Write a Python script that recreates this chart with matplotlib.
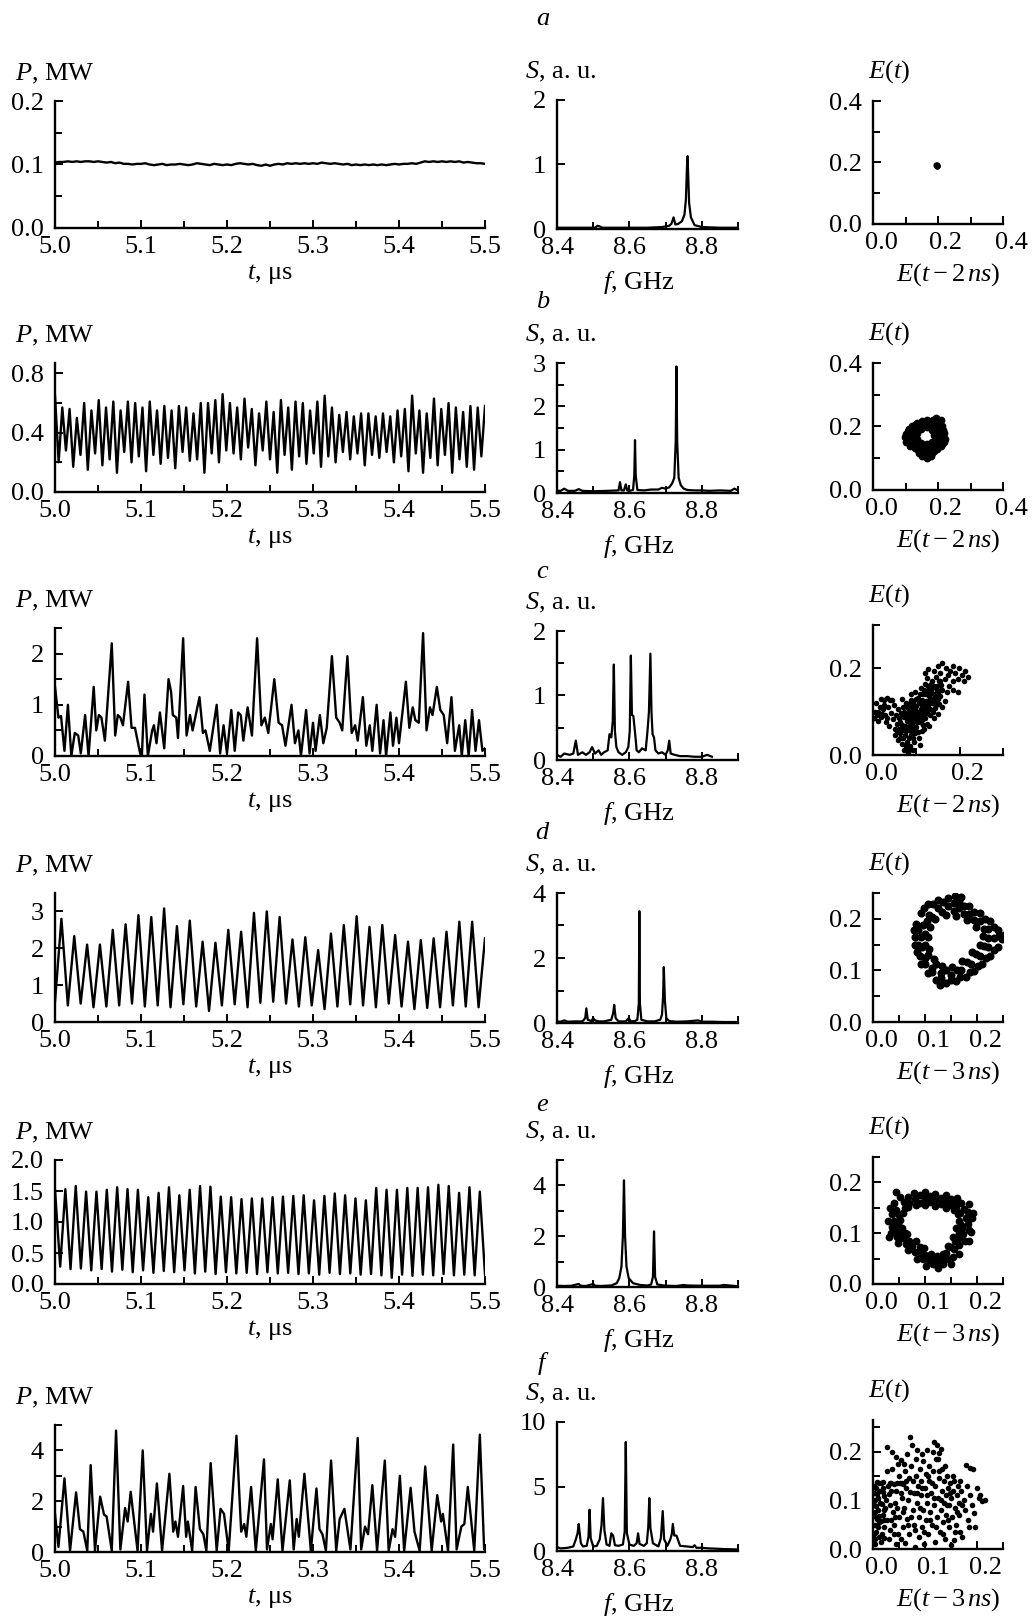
"""
Six regimes of a microwave oscillator: output power P(t), spectrum S(f)
and the delay-embedded phase portrait E(t) vs E(t - tau).
"""
import numpy as np
import matplotlib.pyplot as plt
from matplotlib import transforms

plt.rcParams['font.family'] = ['Liberation Serif', 'DejaVu Serif']
plt.rcParams['mathtext.fontset'] = 'custom'
plt.rcParams['mathtext.rm'] = 'Liberation Serif'
plt.rcParams['mathtext.it'] = 'Liberation Serif:italic'
plt.rcParams['mathtext.bf'] = 'Liberation Serif:bold'

# ---------------------------------------------------------------- data
# (a) steady output, sampled every 5 ns
a_P = [0.103, 0.104, 0.104, 0.105, 0.104, 0.105, 0.104, 0.105, 0.105, 0.104,
       0.105, 0.104, 0.103, 0.104, 0.102, 0.103, 0.101, 0.101, 0.100, 0.101,
       0.101, 0.102, 0.100, 0.099, 0.100, 0.101, 0.099, 0.100, 0.100, 0.101,
       0.100, 0.099, 0.100, 0.102, 0.101, 0.100, 0.099, 0.101, 0.100, 0.099,
       0.100, 0.099, 0.101, 0.102, 0.101, 0.100, 0.101, 0.099, 0.098, 0.100,
       0.098, 0.100, 0.101, 0.100, 0.102, 0.101, 0.102, 0.101, 0.102, 0.101,
       0.102, 0.101, 0.103, 0.102, 0.101, 0.102, 0.101, 0.100, 0.101, 0.099,
       0.100, 0.099, 0.100, 0.099, 0.100, 0.099, 0.100, 0.099, 0.100, 0.101,
       0.100, 0.101, 0.101, 0.102, 0.101, 0.103, 0.105, 0.104, 0.105, 0.104,
       0.105, 0.104, 0.105, 0.104, 0.105, 0.103, 0.104, 0.103, 0.102, 0.102,
       0.101]
a_f = [8.400, 8.420, 8.450, 8.480, 8.505, 8.512, 8.518, 8.525, 8.550, 8.600,
       8.650, 8.690, 8.710, 8.716, 8.722, 8.727, 8.735, 8.745, 8.752, 8.756,
       8.759, 8.7605, 8.762, 8.765, 8.770, 8.780, 8.800, 8.850, 8.900]
a_S = [0.02, 0.02, 0.02, 0.02, 0.02, 0.05, 0.04, 0.02, 0.02, 0.02,
       0.02, 0.03, 0.05, 0.08, 0.18, 0.07, 0.08, 0.12, 0.22, 0.45,
       0.95, 1.13, 0.90, 0.40, 0.18, 0.06, 0.03, 0.02, 0.02]
a_E = [(0.194, 0.192), (0.196, 0.190), (0.198, 0.191), (0.197, 0.188)]

# (b) two-frequency regime: successive maxima / minima of P
b_peaks = [0.65, 0.57, 0.56, 0.50, 0.60, 0.55, 0.62, 0.57, 0.61, 0.55,
           0.61, 0.60, 0.57, 0.61, 0.55, 0.58, 0.55, 0.58, 0.57, 0.53,
           0.60, 0.60, 0.62, 0.66, 0.60, 0.57, 0.63, 0.56, 0.53, 0.61,
           0.54, 0.62, 0.57, 0.61, 0.60, 0.55, 0.61, 0.65, 0.57, 0.52,
           0.54, 0.51, 0.53, 0.53, 0.51, 0.53, 0.51, 0.55, 0.56, 0.65,
           0.55, 0.53, 0.63, 0.56, 0.60, 0.57, 0.54, 0.58, 0.57, 0.58]
b_troughs = [0.20, 0.28, 0.17, 0.25, 0.15, 0.26, 0.18, 0.22, 0.13, 0.27,
             0.20, 0.24, 0.14, 0.25, 0.19, 0.23, 0.16, 0.27, 0.21, 0.22,
             0.13, 0.26, 0.20, 0.28, 0.26, 0.22, 0.30, 0.18, 0.28, 0.22,
             0.13, 0.25, 0.15, 0.24, 0.19, 0.26, 0.17, 0.24, 0.20, 0.27,
             0.22, 0.26, 0.18, 0.25, 0.23, 0.27, 0.20, 0.24, 0.14, 0.26,
             0.13, 0.23, 0.18, 0.25, 0.13, 0.22, 0.17, 0.15, 0.24]
b_f = [8.400, 8.410, 8.420, 8.430, 8.450, 8.460, 8.470, 8.500, 8.540, 8.570,
       8.574, 8.578, 8.585, 8.590, 8.594, 8.600, 8.610, 8.6135, 8.6155, 8.6175,
       8.622, 8.640, 8.660, 8.680, 8.690, 8.700, 8.710, 8.718, 8.724, 8.728,
       8.730, 8.732, 8.736, 8.742, 8.750, 8.760, 8.780, 8.800, 8.820, 8.850,
       8.880, 8.890, 8.900]
b_S = [0.05, 0.05, 0.10, 0.05, 0.05, 0.09, 0.05, 0.04, 0.05, 0.06,
       0.25, 0.06, 0.06, 0.20, 0.06, 0.05, 0.07, 0.40, 1.22, 0.40,
       0.07, 0.06, 0.08, 0.08, 0.12, 0.10, 0.13, 0.22, 0.35, 1.20,
       2.92, 1.20, 0.35, 0.18, 0.10, 0.07, 0.06, 0.06, 0.05, 0.06,
       0.05, 0.10, 0.06]
b_E = [(0.222, 0.160), (0.218, 0.180), (0.212, 0.200), (0.208, 0.222), (0.195, 0.228),
       (0.180, 0.215), (0.165, 0.222), (0.150, 0.218), (0.135, 0.210), (0.120, 0.200),
       (0.108, 0.185), (0.098, 0.168), (0.102, 0.150), (0.115, 0.140), (0.130, 0.132),
       (0.140, 0.118), (0.150, 0.108), (0.165, 0.100), (0.178, 0.108), (0.188, 0.122),
       (0.200, 0.135), (0.212, 0.145),
       (0.210, 0.170), (0.204, 0.190), (0.196, 0.210), (0.172, 0.212), (0.142, 0.208),
       (0.114, 0.175), (0.108, 0.158), (0.125, 0.140), (0.145, 0.120), (0.172, 0.115),
       (0.195, 0.140), (0.205, 0.152),
       (0.215, 0.190), (0.200, 0.218), (0.186, 0.222), (0.158, 0.215), (0.128, 0.205),
       (0.112, 0.193), (0.103, 0.176), (0.106, 0.160), (0.122, 0.150), (0.137, 0.125),
       (0.157, 0.113), (0.170, 0.104), (0.183, 0.118), (0.196, 0.128), (0.208, 0.140),
       (0.217, 0.152),
       (0.200, 0.168), (0.195, 0.192), (0.180, 0.205), (0.160, 0.208), (0.140, 0.198),
       (0.125, 0.183), (0.118, 0.165), (0.128, 0.148), (0.145, 0.135), (0.160, 0.125),
       (0.175, 0.130), (0.190, 0.145),
       (0.193, 0.158), (0.189, 0.182), (0.172, 0.200), (0.150, 0.200), (0.130, 0.190),
       (0.126, 0.170), (0.136, 0.150), (0.152, 0.140), (0.170, 0.138), (0.184, 0.140),
       (0.188, 0.172), (0.182, 0.190), (0.165, 0.198), (0.148, 0.192), (0.135, 0.178),
       (0.135, 0.160), (0.148, 0.148), (0.165, 0.145), (0.180, 0.152)]

# (c) three-frequency regime, extrema of P with their times
c_t = [5.000, 5.004, 5.007, 5.011, 5.015, 5.019, 5.023, 5.027, 5.030, 5.035,
       5.039, 5.045, 5.048, 5.051, 5.054, 5.058, 5.066, 5.070, 5.073, 5.076,
       5.079, 5.085, 5.089, 5.093, 5.099, 5.101, 5.104, 5.108, 5.113, 5.115,
       5.118, 5.122, 5.127, 5.132, 5.135, 5.137, 5.141, 5.143, 5.149, 5.153,
       5.157, 5.160, 5.168, 5.172, 5.175, 5.180, 5.188, 5.192, 5.196, 5.200,
       5.205, 5.209, 5.213, 5.216, 5.219, 5.224, 5.229, 5.235, 5.240, 5.244,
       5.248, 5.255, 5.260, 5.264, 5.268, 5.275, 5.279, 5.283, 5.286, 5.292,
       5.296, 5.300, 5.303, 5.308, 5.312, 5.316, 5.322, 5.327, 5.331, 5.334,
       5.340, 5.345, 5.349, 5.352, 5.358, 5.362, 5.366, 5.369, 5.374, 5.378,
       5.382, 5.385, 5.390, 5.393, 5.397, 5.400, 5.408, 5.412, 5.416, 5.419,
       5.423, 5.428, 5.432, 5.436, 5.439, 5.444, 5.448, 5.452, 5.456, 5.461,
       5.465, 5.470, 5.473, 5.477, 5.481, 5.485, 5.489, 5.493, 5.497, 5.500]
c_P = [1.35, 0.75, 0.78, 0.10, 1.00, 0.00, 0.45, 0.40, 0.05, 0.80,
       0.00, 1.35, 0.50, 0.80, 0.75, 0.30, 2.20, 0.40, 0.80, 0.75,
       0.60, 1.45, 0.55, 0.55, 0.05, 0.00, 1.20, 0.00, 0.50, 0.60,
       0.25, 0.85, 0.15, 1.50, 1.25, 0.80, 0.75, 0.35, 2.30, 0.40,
       0.80, 0.50, 1.15, 0.45, 0.50, 0.10, 1.00, 0.05, 0.60, 0.05,
       0.90, 0.10, 0.85, 0.80, 0.30, 0.95, 0.40, 2.30, 0.60, 0.75,
       0.45, 1.50, 0.65, 0.60, 0.20, 1.00, 0.25, 0.50, 0.00, 0.90,
       0.05, 0.65, 0.10, 0.80, 0.25, 0.55, 1.95, 0.75, 0.65, 0.50,
       1.95, 0.45, 0.60, 0.30, 1.15, 0.20, 0.60, 0.10, 1.00, 0.05,
       0.70, 0.00, 0.85, 0.20, 0.75, 0.25, 1.45, 0.55, 0.95, 0.70,
       0.65, 2.40, 0.50, 0.95, 0.80, 1.35, 0.90, 0.80, 0.25, 1.15,
       0.10, 0.60, 0.00, 0.70, 0.00, 0.90, 0.10, 0.70, 0.10, 0.15]
c_f = [8.400, 8.410, 8.420, 8.435, 8.445, 8.452, 8.458, 8.470, 8.480, 8.490,
       8.497, 8.505, 8.515, 8.522, 8.530, 8.540, 8.545, 8.550, 8.554, 8.557,
       8.560, 8.564, 8.570, 8.580, 8.590, 8.597, 8.601, 8.604, 8.607, 8.611,
       8.616, 8.620, 8.626, 8.635, 8.645, 8.650, 8.654, 8.658, 8.661, 8.664,
       8.668, 8.672, 8.680, 8.690, 8.700, 8.706, 8.710, 8.714, 8.725, 8.740,
       8.760, 8.780, 8.800, 8.815, 8.828]
c_S = [0.08, 0.05, 0.10, 0.08, 0.10, 0.30, 0.08, 0.12, 0.08, 0.12,
       0.20, 0.10, 0.15, 0.08, 0.12, 0.15, 0.40, 0.35, 0.60, 1.48,
       0.45, 0.20, 0.12, 0.08, 0.12, 0.20, 0.45, 1.62, 0.70, 0.68,
       0.40, 0.15, 0.12, 0.18, 0.15, 0.45, 0.75, 1.65, 0.75, 0.40,
       0.35, 0.15, 0.10, 0.12, 0.08, 0.15, 0.30, 0.10, 0.08, 0.06,
       0.06, 0.05, 0.05, 0.08, 0.05]
c_E = [(0.003, 0.085), (0.005, 0.100), (0.010, 0.092), (0.012, 0.078), (0.008, 0.120),
       (0.018, 0.130), (0.025, 0.128), (0.032, 0.131), (0.040, 0.127), (0.022, 0.105),
       (0.028, 0.092), (0.035, 0.110), (0.018, 0.088), (0.030, 0.075), (0.042, 0.098),
       (0.045, 0.082), (0.048, 0.115), (0.038, 0.068), (0.050, 0.060), (0.055, 0.072),
       (0.015, 0.110), (0.050, 0.045), (0.058, 0.035), (0.062, 0.050), (0.066, 0.025),
       (0.070, 0.040), (0.072, 0.012), (0.078, 0.030), (0.080, 0.005), (0.085, 0.020),
       (0.088, 0.045), (0.092, 0.012), (0.095, 0.030), (0.098, 0.050), (0.060, 0.060),
       (0.068, 0.070), (0.075, 0.055), (0.082, 0.065), (0.090, 0.058), (0.100, 0.065),
       (0.105, 0.040), (0.108, 0.022), (0.112, 0.055), (0.115, 0.070), (0.060, 0.085),
       (0.065, 0.098), (0.070, 0.110), (0.072, 0.088), (0.078, 0.078), (0.080, 0.100),
       (0.083, 0.118), (0.085, 0.090), (0.088, 0.080), (0.090, 0.105), (0.092, 0.125),
       (0.095, 0.095), (0.097, 0.078), (0.100, 0.112), (0.102, 0.088), (0.104, 0.132),
       (0.106, 0.100), (0.108, 0.076), (0.110, 0.118), (0.112, 0.092), (0.115, 0.140),
       (0.117, 0.108), (0.120, 0.085), (0.122, 0.125), (0.125, 0.100), (0.127, 0.150),
       (0.128, 0.115), (0.130, 0.135), (0.132, 0.092), (0.135, 0.120), (0.137, 0.155),
       (0.140, 0.140), (0.142, 0.108), (0.145, 0.128), (0.147, 0.160), (0.150, 0.145),
       (0.153, 0.118), (0.155, 0.135), (0.158, 0.162), (0.160, 0.150), (0.075, 0.120),
       (0.068, 0.130), (0.058, 0.105), (0.052, 0.092), (0.088, 0.140), (0.098, 0.145),
       (0.110, 0.155), (0.120, 0.165), (0.125, 0.178), (0.135, 0.170), (0.145, 0.180),
       (0.118, 0.060), (0.125, 0.072), (0.130, 0.068), (0.120, 0.190), (0.128, 0.198),
       (0.140, 0.195), (0.150, 0.205), (0.155, 0.190), (0.160, 0.212), (0.168, 0.200),
       (0.172, 0.185), (0.178, 0.195), (0.185, 0.205), (0.190, 0.190), (0.198, 0.200),
       (0.205, 0.185), (0.210, 0.170), (0.220, 0.180), (0.212, 0.195), (0.195, 0.175),
       (0.185, 0.170), (0.175, 0.160), (0.185, 0.150), (0.195, 0.145), (0.165, 0.175),
       (0.155, 0.170), (0.170, 0.145), (0.165, 0.125), (0.160, 0.110), (0.150, 0.095),
       (0.140, 0.085), (0.043, 0.127), (0.085, 0.108), (0.095, 0.115), (0.105, 0.085),
       (0.062, 0.075), (0.066, 0.090), (0.071, 0.100), (0.074, 0.068), (0.077, 0.092),
       (0.079, 0.110), (0.081, 0.085), (0.084, 0.075), (0.086, 0.100), (0.087, 0.128),
       (0.089, 0.095), (0.091, 0.070), (0.093, 0.115), (0.094, 0.085), (0.096, 0.105),
       (0.099, 0.130), (0.101, 0.075), (0.103, 0.098), (0.105, 0.122), (0.107, 0.090),
       (0.109, 0.140), (0.111, 0.105), (0.113, 0.080), (0.114, 0.128), (0.116, 0.098),
       (0.118, 0.150), (0.119, 0.118), (0.121, 0.095), (0.123, 0.140), (0.124, 0.110),
       (0.126, 0.160), (0.129, 0.125), (0.131, 0.105), (0.133, 0.145), (0.134, 0.165),
       (0.136, 0.130), (0.138, 0.100), (0.139, 0.120), (0.141, 0.160), (0.143, 0.135),
       (0.146, 0.115), (0.148, 0.150), (0.151, 0.130), (0.152, 0.170), (0.156, 0.150),
       (0.068, 0.058), (0.073, 0.045), (0.083, 0.040), (0.087, 0.055), (0.093, 0.040),
       (0.097, 0.062), (0.103, 0.052), (0.076, 0.020), (0.082, 0.012), (0.063, 0.040),
       (0.055, 0.055), (0.033, 0.085), (0.025, 0.115), (0.012, 0.100), (0.020, 0.095)]

# (d) quasi-periodic regime: minima / maxima of P, last value at 5.5 us
d_troughs = [0.55, 0.45, 0.50, 0.40, 0.42, 0.45, 0.50, 0.42, 0.45, 0.40,
             0.48, 0.42, 0.30, 0.45, 0.48, 0.40, 0.52, 0.55, 0.50, 0.42,
             0.45, 0.35, 0.42, 0.48, 0.45, 0.40, 0.50, 0.42, 0.35, 0.38,
             0.40, 0.45, 0.42, 0.40]
d_peaks = [2.80, 2.33, 2.10, 2.10, 2.50, 2.65, 2.90, 2.85, 3.08, 2.60,
           2.75, 2.18, 2.15, 2.50, 2.45, 2.96, 3.00, 2.85, 2.24, 2.30,
           1.95, 2.40, 2.63, 2.87, 2.58, 2.63, 2.36, 2.18, 2.22, 2.27,
           2.45, 2.72, 2.72]
d_last = [2.27]
d_f = [8.400, 8.410, 8.420, 8.430, 8.450, 8.470, 8.478, 8.481, 8.485, 8.495,
       8.500, 8.505, 8.515, 8.530, 8.550, 8.555, 8.558, 8.562, 8.570, 8.590,
       8.598, 8.604, 8.615, 8.622, 8.626, 8.6275, 8.629, 8.633, 8.650, 8.670,
       8.685, 8.690, 8.693, 8.695, 8.698, 8.702, 8.710, 8.730, 8.760, 8.790,
       8.800, 8.830, 8.860, 8.900]
d_S = [0.05, 0.04, 0.08, 0.04, 0.05, 0.05, 0.15, 0.45, 0.10, 0.06,
       0.15, 0.08, 0.05, 0.05, 0.10, 0.30, 0.56, 0.15, 0.05, 0.05,
       0.15, 0.05, 0.06, 0.10, 0.60, 3.44, 0.60, 0.10, 0.05, 0.05,
       0.10, 0.25, 0.80, 1.72, 0.70, 0.15, 0.06, 0.04, 0.05, 0.08,
       0.04, 0.04, 0.03, 0.03]
d_E = [(0.080, 0.165), (0.082, 0.190), (0.092, 0.212), (0.105, 0.228), (0.125, 0.236),
       (0.145, 0.240), (0.165, 0.235), (0.185, 0.225), (0.205, 0.212), (0.225, 0.195),
       (0.240, 0.178), (0.248, 0.160), (0.240, 0.145), (0.225, 0.128), (0.210, 0.112),
       (0.195, 0.098), (0.178, 0.088), (0.160, 0.080), (0.140, 0.076), (0.122, 0.082),
       (0.105, 0.095), (0.092, 0.112), (0.085, 0.135), (0.080, 0.150),
       (0.086, 0.178), (0.098, 0.220), (0.115, 0.228), (0.135, 0.232), (0.155, 0.230),
       (0.175, 0.224), (0.195, 0.214), (0.215, 0.200), (0.232, 0.185), (0.242, 0.166),
       (0.232, 0.140), (0.218, 0.124), (0.202, 0.108), (0.186, 0.096), (0.168, 0.088),
       (0.150, 0.082), (0.131, 0.085), (0.113, 0.096), (0.100, 0.112), (0.090, 0.128),
       (0.087, 0.150),
       (0.093, 0.165), (0.097, 0.188), (0.108, 0.207), (0.125, 0.220), (0.145, 0.224),
       (0.165, 0.220), (0.185, 0.210), (0.205, 0.196), (0.222, 0.180), (0.232, 0.162),
       (0.222, 0.145), (0.205, 0.128), (0.188, 0.112), (0.170, 0.100), (0.150, 0.092),
       (0.130, 0.094), (0.113, 0.105), (0.100, 0.125), (0.094, 0.145),
       (0.100, 0.170), (0.104, 0.195), (0.114, 0.204), (0.132, 0.214), (0.155, 0.215),
       (0.175, 0.209), (0.195, 0.197), (0.214, 0.180), (0.222, 0.163), (0.214, 0.148),
       (0.198, 0.132), (0.180, 0.116), (0.161, 0.100), (0.140, 0.100), (0.122, 0.112),
       (0.106, 0.130), (0.100, 0.150),
       (0.106, 0.165), (0.110, 0.185), (0.120, 0.200), (0.140, 0.208), (0.160, 0.206),
       (0.180, 0.198), (0.198, 0.184), (0.212, 0.166), (0.205, 0.150), (0.190, 0.135),
       (0.172, 0.118), (0.152, 0.106), (0.133, 0.108), (0.118, 0.122), (0.108, 0.142),
       (0.158, 0.245), (0.170, 0.242), (0.078, 0.178), (0.252, 0.168), (0.128, 0.072)]

# (e) quasi-periodic regime: maxima / minima of P
e_peaks = [1.52, 1.53, 1.58, 1.49, 1.49, 1.52, 1.56, 1.53, 1.52, 1.40,
           1.47, 1.56, 1.43, 1.52, 1.58, 1.57, 1.41, 1.40, 1.37, 1.38,
           1.38, 1.40, 1.41, 1.42, 1.43, 1.35, 1.42, 1.46, 1.43, 1.38,
           1.35, 1.55, 1.52, 1.52, 1.55, 1.55, 1.56, 1.60, 1.58, 1.47,
           1.56, 1.49]
e_troughs = [0.28, 0.24, 0.25, 0.22, 0.24, 0.20, 0.23, 0.19, 0.22, 0.18,
             0.21, 0.19, 0.22, 0.17, 0.20, 0.16, 0.19, 0.17, 0.18, 0.16,
             0.19, 0.17, 0.18, 0.16, 0.17, 0.15, 0.18, 0.16, 0.17, 0.15,
             0.16, 0.14, 0.10, 0.15, 0.13, 0.15, 0.14, 0.16, 0.14, 0.15,
             0.14, 0.15]
e_f = [8.400, 8.420, 8.440, 8.460, 8.465, 8.480, 8.500, 8.505, 8.520, 8.550,
       8.565, 8.572, 8.578, 8.582, 8.585, 8.588, 8.592, 8.598, 8.610, 8.630,
       8.650, 8.660, 8.665, 8.668, 8.671, 8.677, 8.700, 8.730, 8.750, 8.760,
       8.800, 8.850, 8.860, 8.900]
e_S = [0.05, 0.04, 0.05, 0.12, 0.05, 0.04, 0.12, 0.05, 0.04, 0.06,
       0.15, 0.35, 0.80, 2.00, 4.20, 2.00, 0.80, 0.35, 0.15, 0.08,
       0.06, 0.10, 0.40, 2.19, 0.40, 0.10, 0.05, 0.04, 0.08, 0.06,
       0.05, 0.05, 0.08, 0.03]
e_E = [(0.033, 0.150), (0.052, 0.172), (0.078, 0.180), (0.100, 0.181), (0.120, 0.178),
       (0.140, 0.175), (0.162, 0.170), (0.185, 0.157), (0.190, 0.130), (0.184, 0.106),
       (0.176, 0.085), (0.166, 0.060), (0.150, 0.040), (0.125, 0.031), (0.102, 0.036),
       (0.084, 0.050), (0.067, 0.066), (0.049, 0.081), (0.034, 0.100), (0.028, 0.125),
       (0.040, 0.160), (0.068, 0.172), (0.090, 0.175), (0.110, 0.174), (0.130, 0.170),
       (0.150, 0.167), (0.170, 0.160), (0.183, 0.142), (0.182, 0.118), (0.174, 0.098),
       (0.166, 0.076), (0.153, 0.054), (0.135, 0.040), (0.115, 0.040), (0.097, 0.049),
       (0.080, 0.063), (0.063, 0.078), (0.047, 0.093), (0.037, 0.112), (0.036, 0.137),
       (0.045, 0.145), (0.060, 0.162), (0.080, 0.168), (0.100, 0.168), (0.120, 0.166),
       (0.140, 0.162), (0.160, 0.158), (0.175, 0.148), (0.178, 0.130), (0.172, 0.110),
       (0.165, 0.090), (0.155, 0.068), (0.142, 0.050), (0.125, 0.043), (0.108, 0.048),
       (0.092, 0.060), (0.075, 0.075), (0.058, 0.090), (0.045, 0.105), (0.040, 0.125),
       (0.062, 0.150), (0.090, 0.160), (0.130, 0.158), (0.160, 0.150), (0.170, 0.117),
       (0.158, 0.085), (0.140, 0.062), (0.118, 0.052), (0.090, 0.072), (0.062, 0.100),
       (0.048, 0.118), (0.050, 0.135), (0.070, 0.160), (0.110, 0.162), (0.150, 0.156),
       (0.168, 0.140), (0.166, 0.100), (0.150, 0.072), (0.132, 0.050), (0.100, 0.058),
       (0.070, 0.085), (0.054, 0.098), (0.042, 0.118),
       (0.057, 0.140), (0.068, 0.152), (0.082, 0.156), (0.100, 0.156), (0.120, 0.154),
       (0.140, 0.150), (0.155, 0.146), (0.164, 0.138), (0.166, 0.125), (0.160, 0.110),
       (0.154, 0.093), (0.145, 0.075), (0.135, 0.060), (0.124, 0.055), (0.112, 0.059),
       (0.098, 0.070), (0.082, 0.084), (0.066, 0.098), (0.056, 0.110), (0.052, 0.126),
       (0.188, 0.102), (0.192, 0.140), (0.045, 0.182), (0.185, 0.085), (0.030, 0.092)]

# (f) chaotic regime, extrema of P with their times
f_t = [5.0000, 5.0040, 5.0110, 5.0175, 5.0245, 5.0290, 5.0330, 5.0375, 5.0415, 5.0465,
       5.0525, 5.0570, 5.0600, 5.0660, 5.0710, 5.0760, 5.0815, 5.0845, 5.0880, 5.0960,
       5.1020, 5.1070, 5.1115, 5.1140, 5.1185, 5.1245, 5.1330, 5.1375, 5.1400, 5.1430,
       5.1490, 5.1525, 5.1545, 5.1595, 5.1635, 5.1685, 5.1725, 5.1760, 5.1810, 5.1880,
       5.1925, 5.1965, 5.2020, 5.2110, 5.2165, 5.2200, 5.2225, 5.2280, 5.2335, 5.2430,
       5.2465, 5.2510, 5.2530, 5.2590, 5.2645, 5.2730, 5.2775, 5.2810, 5.2835, 5.2900,
       5.2975, 5.3040, 5.3075, 5.3110, 5.3150, 5.3210, 5.3270, 5.3310, 5.3365, 5.3435,
       5.3520, 5.3560, 5.3605, 5.3640, 5.3690, 5.3745, 5.3835, 5.3880, 5.3925, 5.3955,
       5.4010, 5.4060, 5.4135, 5.4180, 5.4240, 5.4305, 5.4380, 5.4445, 5.4490, 5.4510,
       5.4570, 5.4630, 5.4670, 5.4725, 5.4760, 5.4800, 5.4875, 5.4940, 5.4990, 5.5000]
f_P = [1.50, 0.20, 2.90, 0.05, 2.35, 0.90, 0.80, 0.05, 3.42, 0.05,
       2.18, 1.47, 1.40, 0.05, 4.78, 0.10, 1.73, 1.20, 2.37, 0.05,
       4.00, 0.05, 1.50, 0.80, 2.70, 0.05, 3.08, 0.80, 1.20, 0.60,
       2.60, 0.60, 1.20, 0.05, 2.56, 0.90, 0.70, 0.05, 3.50, 0.05,
       1.70, 1.50, 0.05, 4.58, 0.80, 1.10, 0.60, 2.56, 0.05, 3.65,
       0.10, 1.10, 0.50, 2.86, 0.05, 2.82, 0.10, 1.30, 0.60, 3.08,
       0.05, 2.50, 0.90, 0.70, 0.05, 3.60, 0.05, 1.30, 1.70, 0.10,
       4.49, 0.10, 1.00, 0.70, 2.63, 0.05, 3.60, 0.05, 0.90, 0.60,
       3.00, 0.05, 2.53, 0.80, 0.05, 3.37, 0.05, 2.24, 1.20, 1.50,
       0.05, 4.23, 0.10, 1.00, 1.10, 2.56, 0.05, 4.62, 0.10, 0.30]
f_f = [8.400, 8.410, 8.430, 8.445, 8.452, 8.457, 8.460, 8.463, 8.466, 8.472,
       8.482, 8.487, 8.490, 8.493, 8.500, 8.510, 8.518, 8.523, 8.527, 8.531,
       8.537, 8.545, 8.550, 8.555, 8.560, 8.570, 8.582, 8.587, 8.590, 8.593,
       8.600, 8.612, 8.620, 8.624, 8.628, 8.640, 8.648, 8.652, 8.655, 8.658,
       8.665, 8.680, 8.687, 8.692, 8.696, 8.705, 8.713, 8.717, 8.720, 8.724,
       8.730, 8.740, 8.760, 8.775, 8.780, 8.785, 8.800, 8.820, 8.840, 8.860,
       8.900]
f_S = [0.30, 0.20, 0.25, 0.35, 0.90, 1.40, 2.10, 1.30, 0.60, 0.35,
       0.40, 1.10, 3.20, 1.00, 0.35, 0.40, 0.90, 2.00, 4.10, 1.60,
       0.50, 0.40, 1.37, 1.20, 0.45, 0.40, 0.50, 1.50, 8.45, 1.40,
       0.50, 0.40, 0.60, 1.37, 0.55, 0.40, 0.60, 1.80, 4.10, 1.80,
       0.60, 0.35, 1.00, 3.10, 0.90, 0.40, 0.90, 1.30, 2.10, 1.20,
       1.20, 0.40, 0.35, 0.30, 0.45, 0.25, 0.25, 0.20, 0.18, 0.15,
       0.12]
f_E = [(0.004, 0.020), (0.006, 0.035), (0.003, 0.050), (0.007, 0.062), (0.004, 0.075),
       (0.006, 0.088), (0.003, 0.100), (0.007, 0.112), (0.005, 0.125), (0.008, 0.138),
       (0.004, 0.010), (0.009, 0.045), (0.010, 0.080), (0.009, 0.105), (0.016, 0.015),
       (0.018, 0.030), (0.015, 0.058), (0.020, 0.070), (0.017, 0.092), (0.019, 0.118),
       (0.016, 0.135), (0.022, 0.045), (0.024, 0.085), (0.025, 0.100), (0.027, 0.060),
       (0.028, 0.130), (0.026, 0.160), (0.027, 0.210), (0.030, 0.020), (0.030, 0.112),
       (0.035, 0.135), (0.037, 0.200), (0.036, 0.165), (0.038, 0.075), (0.040, 0.050),
       (0.042, 0.095), (0.044, 0.010), (0.045, 0.120), (0.046, 0.135), (0.048, 0.175),
       (0.049, 0.030), (0.050, 0.065), (0.050, 0.150), (0.053, 0.183), (0.055, 0.135),
       (0.056, 0.105), (0.058, 0.045), (0.060, 0.085), (0.061, 0.012), (0.062, 0.160),
       (0.064, 0.125), (0.065, 0.062), (0.066, 0.195), (0.068, 0.100), (0.070, 0.030),
       (0.070, 0.145), (0.072, 0.230), (0.075, 0.214), (0.074, 0.170), (0.076, 0.080),
       (0.078, 0.115), (0.079, 0.050), (0.080, 0.005), (0.082, 0.150), (0.083, 0.185),
       (0.085, 0.203), (0.084, 0.095), (0.086, 0.130), (0.088, 0.065), (0.089, 0.025),
       (0.090, 0.165), (0.092, 0.110), (0.093, 0.140), (0.094, 0.045), (0.096, 0.180),
       (0.097, 0.080), (0.098, 0.010), (0.100, 0.125), (0.101, 0.155), (0.102, 0.060),
       (0.104, 0.203), (0.104, 0.095), (0.106, 0.030), (0.107, 0.170), (0.108, 0.140),
       (0.110, 0.075), (0.112, 0.115), (0.113, 0.050), (0.115, 0.160), (0.117, 0.220),
       (0.117, 0.090), (0.119, 0.015), (0.120, 0.130), (0.121, 0.185), (0.123, 0.214),
       (0.123, 0.065), (0.125, 0.105), (0.126, 0.197), (0.127, 0.145), (0.128, 0.035),
       (0.130, 0.080), (0.132, 0.120), (0.133, 0.165), (0.135, 0.055), (0.136, 0.095),
       (0.137, 0.140), (0.139, 0.020), (0.140, 0.110), (0.141, 0.070), (0.143, 0.150),
       (0.144, 0.125), (0.146, 0.045), (0.147, 0.090), (0.149, 0.135), (0.150, 0.008),
       (0.150, 0.105), (0.152, 0.065), (0.154, 0.120), (0.155, 0.018), (0.156, 0.140),
       (0.158, 0.085), (0.160, 0.050), (0.161, 0.110), (0.163, 0.130), (0.165, 0.095),
       (0.166, 0.070), (0.168, 0.035), (0.170, 0.120), (0.171, 0.025), (0.175, 0.100),
       (0.176, 0.080), (0.178, 0.173), (0.180, 0.130), (0.182, 0.060), (0.184, 0.046),
       (0.186, 0.110), (0.187, 0.166), (0.190, 0.090), (0.193, 0.165), (0.194, 0.073),
       (0.197, 0.046), (0.200, 0.125), (0.203, 0.105), (0.206, 0.111), (0.210, 0.098),
       (0.216, 0.100), (0.012, 0.135), (0.020, 0.137), (0.032, 0.136), (0.040, 0.134),
       (0.052, 0.136), (0.058, 0.133),
       (0.002, 0.030), (0.002, 0.068), (0.002, 0.090), (0.002, 0.115), (0.002, 0.130),
       (0.011, 0.025), (0.012, 0.055), (0.012, 0.068), (0.013, 0.095), (0.011, 0.120),
       (0.021, 0.022), (0.022, 0.060), (0.021, 0.080), (0.022, 0.108), (0.020, 0.125),
       (0.033, 0.040), (0.032, 0.090), (0.034, 0.060), (0.034, 0.120), (0.040, 0.030),
       (0.043, 0.065), (0.047, 0.085), (0.053, 0.020), (0.054, 0.115), (0.057, 0.075),
       (0.063, 0.140), (0.067, 0.050), (0.071, 0.118), (0.073, 0.065), (0.077, 0.140),
       (0.081, 0.040), (0.085, 0.115), (0.091, 0.085), (0.095, 0.125), (0.099, 0.035),
       (0.103, 0.110), (0.106, 0.150), (0.109, 0.060), (0.114, 0.135), (0.118, 0.105),
       (0.122, 0.045), (0.126, 0.160), (0.131, 0.100), (0.134, 0.030), (0.138, 0.170),
       (0.142, 0.090), (0.145, 0.060), (0.148, 0.115), (0.153, 0.150), (0.157, 0.035),
       (0.162, 0.075), (0.167, 0.140), (0.172, 0.090), (0.125, 0.185), (0.115, 0.200),
       (0.095, 0.195), (0.060, 0.175), (0.045, 0.190), (0.130, 0.205)]


def alternate(first, second, tail=()):
    """Merge successive maxima and minima into one sequence."""
    out = []
    for i in range(max(len(first), len(second))):
        if i < len(first):
            out.append(first[i])
        if i < len(second):
            out.append(second[i])
    return out + list(tail)


def time_axis(values):
    return np.linspace(5.0, 5.5, len(values))


b_P = alternate(b_peaks, b_troughs)
d_P = alternate(d_troughs, d_peaks, d_last)
e_P = alternate(e_peaks, e_troughs)

series = {
    'a': (time_axis(a_P), a_P, a_f, a_S, a_E),
    'b': (time_axis(b_P), b_P, b_f, b_S, b_E),
    'c': (c_t, c_P, c_f, c_S, c_E),
    'd': (time_axis(d_P), d_P, d_f, d_S, d_E),
    'e': (time_axis(e_P), e_P, e_f, e_S, e_E),
    'f': (f_t, f_P, f_f, f_S, f_E),
}

# ---------------------------------------------------------------- layout
W, H = 1036, 1617
TIME_X = (55, 485)
SPEC_X = (557, 738)
SCAT_X = (873, 1003)
FS = 19

rows = [
    dict(key='a', ly=19, tbox=(101, 228), sbox=(100, 229), ebox=(101, 224),
         tyl=(0, 0.2), tyt=[0, 0.1, 0.2], tyf='%.1f', tym=[0.05, 0.15],
         syl=(0, 2), syt=[0, 1, 2], sym=[],
         exl=(0, 0.4), ext=[0, 0.2, 0.4], exm=[0.1, 0.3],
         eyl=(0, 0.4), eyt=[0, 0.2, 0.4], eym=[0.1, 0.3], lag='2', ms=4.5),
    dict(key='b', ly=302, tbox=(363, 492), sbox=(363, 493), ebox=(363, 490),
         tyl=(0, 0.87), tyt=[0, 0.4, 0.8], tyf='%.1f', tym=[0.2, 0.6],
         syl=(0, 3), syt=[0, 1, 2, 3], sym=[0.5, 1.5, 2.5],
         exl=(0, 0.4), ext=[0, 0.2, 0.4], exm=[0.1, 0.3],
         eyl=(0, 0.4), eyt=[0, 0.2, 0.4], eym=[0.1, 0.3], lag='2', ms=5.6),
    dict(key='c', ly=572, tbox=(628, 756), sbox=(631, 760), ebox=(625, 755),
         tyl=(0, 2.5), tyt=[0, 1, 2], tyf='%d', tym=[0.5, 1.5, 2.5],
         syl=(0, 2), syt=[0, 1, 2], sym=[0.5, 1.5],
         exl=(0, 0.3), ext=[0, 0.2], exm=[0.1, 0.3],
         eyl=(0, 0.3), eyt=[0, 0.2], eym=[0.1, 0.3], lag='2', ms=4.0),
    dict(key='d', ly=833, tbox=(893, 1022), sbox=(893, 1023), ebox=(893, 1022),
         tyl=(0, 3.5), tyt=[0, 1, 2, 3], tyf='%d', tym=[],
         syl=(0, 4), syt=[0, 2, 4], sym=[1, 3],
         exl=(0, 0.25), ext=[0, 0.1, 0.2], exm=[0.05, 0.15, 0.25],
         eyl=(0, 0.25), eyt=[0, 0.1, 0.2], eym=[0.05, 0.15, 0.25], lag='3', ms=5.8),
    dict(key='e', ly=1105, tbox=(1160, 1284), sbox=(1160, 1287), ebox=(1157, 1284),
         tyl=(0, 2.0), tyt=[0, 0.5, 1.0, 1.5, 2.0], tyf='%.1f', tym=[],
         syl=(0, 5), syt=[0, 2, 4], sym=[1, 3, 5],
         exl=(0, 0.25), ext=[0, 0.1, 0.2], exm=[0.05, 0.15, 0.25],
         eyl=(0, 0.25), eyt=[0, 0.1, 0.2], eym=[0.05, 0.15, 0.25], lag='3', ms=5.6),
    dict(key='f', ly=1363, tbox=(1425, 1552), sbox=(1422, 1551), ebox=(1420, 1549),
         tyl=(0, 5), tyt=[0, 2, 4], tyf='%d', tym=[1, 3, 5],
         syl=(0, 10), syt=[0, 5, 10], sym=[],
         exl=(0, 0.25), ext=[0, 0.1, 0.2], exm=[0.05, 0.15, 0.25],
         eyl=(0, 0.265), eyt=[0, 0.1, 0.2], eym=[0.05, 0.15, 0.25], lag='3', ms=4.0),
]

fig = plt.figure(figsize=(W / 100, H / 100), dpi=100)


def make_ax(xs, ys):
    x0, x1 = xs
    top, bottom = ys
    return fig.add_axes([x0 / W, 1 - bottom / H, (x1 - x0) / W, (bottom - top) / H])


def dress(ax, xlim, xt, xtl, xm, ylim, yt, ytl, ym, xshift=0):
    ax.set_xlim(*xlim)
    ax.set_ylim(*ylim)
    ax.set_xticks(xt, xtl)
    ax.set_xticks(xm, minor=True)
    ax.set_yticks(yt, ytl)
    ax.set_yticks(ym, minor=True)
    for side in ('top', 'right'):
        ax.spines[side].set_visible(False)
    for side in ('left', 'bottom'):
        ax.spines[side].set_linewidth(1.7)
    ax.tick_params(which='both', direction='in', width=1.4, labelsize=FS)
    ax.tick_params(which='major', length=6)
    ax.tick_params(which='minor', length=5)
    ax.tick_params(axis='x', pad=6)
    ax.tick_params(axis='y', pad=8)
    ax.patch.set_visible(False)
    if xshift:
        shift = transforms.ScaledTranslation(xshift / 100, 0, fig.dpi_scale_trans)
        for lab in ax.get_xticklabels():
            lab.set_transform(lab.get_transform() + shift)


def put(ax, text, fx, fy, dx, dy):
    tr = transforms.offset_copy(ax.transAxes, fig=fig, x=dx, y=dy, units='dots')
    ax.text(fx, fy, text, transform=tr, ha='center', va='center', fontsize=FS)


for r in rows:
    t, P, f, S, E = series[r['key']]

    fig.text(543 / W, 1 - r['ly'] / H, '$%s$' % r['key'],
             ha='center', va='center', fontsize=FS)

    # power vs time
    ax = make_ax(TIME_X, r['tbox'])
    ax.plot(t, P, color='black', lw=1.7, solid_joinstyle='round')
    dress(ax, (5.0, 5.5), [5.0, 5.1, 5.2, 5.3, 5.4, 5.5],
          ['5.0', '5.1', '5.2', '5.3', '5.4', '5.5'],
          [5.05, 5.15, 5.25, 5.35, 5.45],
          r['tyl'], r['tyt'], [r['tyf'] % v for v in r['tyt']], r['tym'])
    put(ax, r'$P$, MW', 0, 1, 0, 27)
    put(ax, r'$t$, μs', 0.5, 0, 0, -46)

    # spectrum
    ax = make_ax(SPEC_X, r['sbox'])
    ax.plot(f, S, color='black', lw=1.6, solid_joinstyle='round')
    dress(ax, (8.4, 8.9), [8.4, 8.6, 8.8], ['8.4', '8.6', '8.8'],
          [8.5, 8.7, 8.9], r['syl'], r['syt'], ['%d' % v for v in r['syt']],
          r['sym'])
    put(ax, r'$S$, a. u.', 0, 1, 4, 28)
    put(ax, r'$f$, GHz', 0.45, 0, 0, -53)

    # phase portrait
    ax = make_ax(SCAT_X, r['ebox'])
    ex, ey = zip(*E)
    ax.plot(ex, ey, 'o', color='black', ms=r['ms'], mew=0)
    dress(ax, r['exl'], r['ext'], ['%.1f' % v for v in r['ext']], r['exm'],
          r['eyl'], r['eyt'], ['%.1f' % v for v in r['eyt']], r['eym'],
          xshift=8)
    put(ax, r'$E(t)$', 0, 1, 16, 29)
    put(ax, r'$E(t - %s\,ns)$' % r['lag'], 0.58, 0, 0, -51)

fig.savefig('out.png', dpi=100, facecolor='white')
